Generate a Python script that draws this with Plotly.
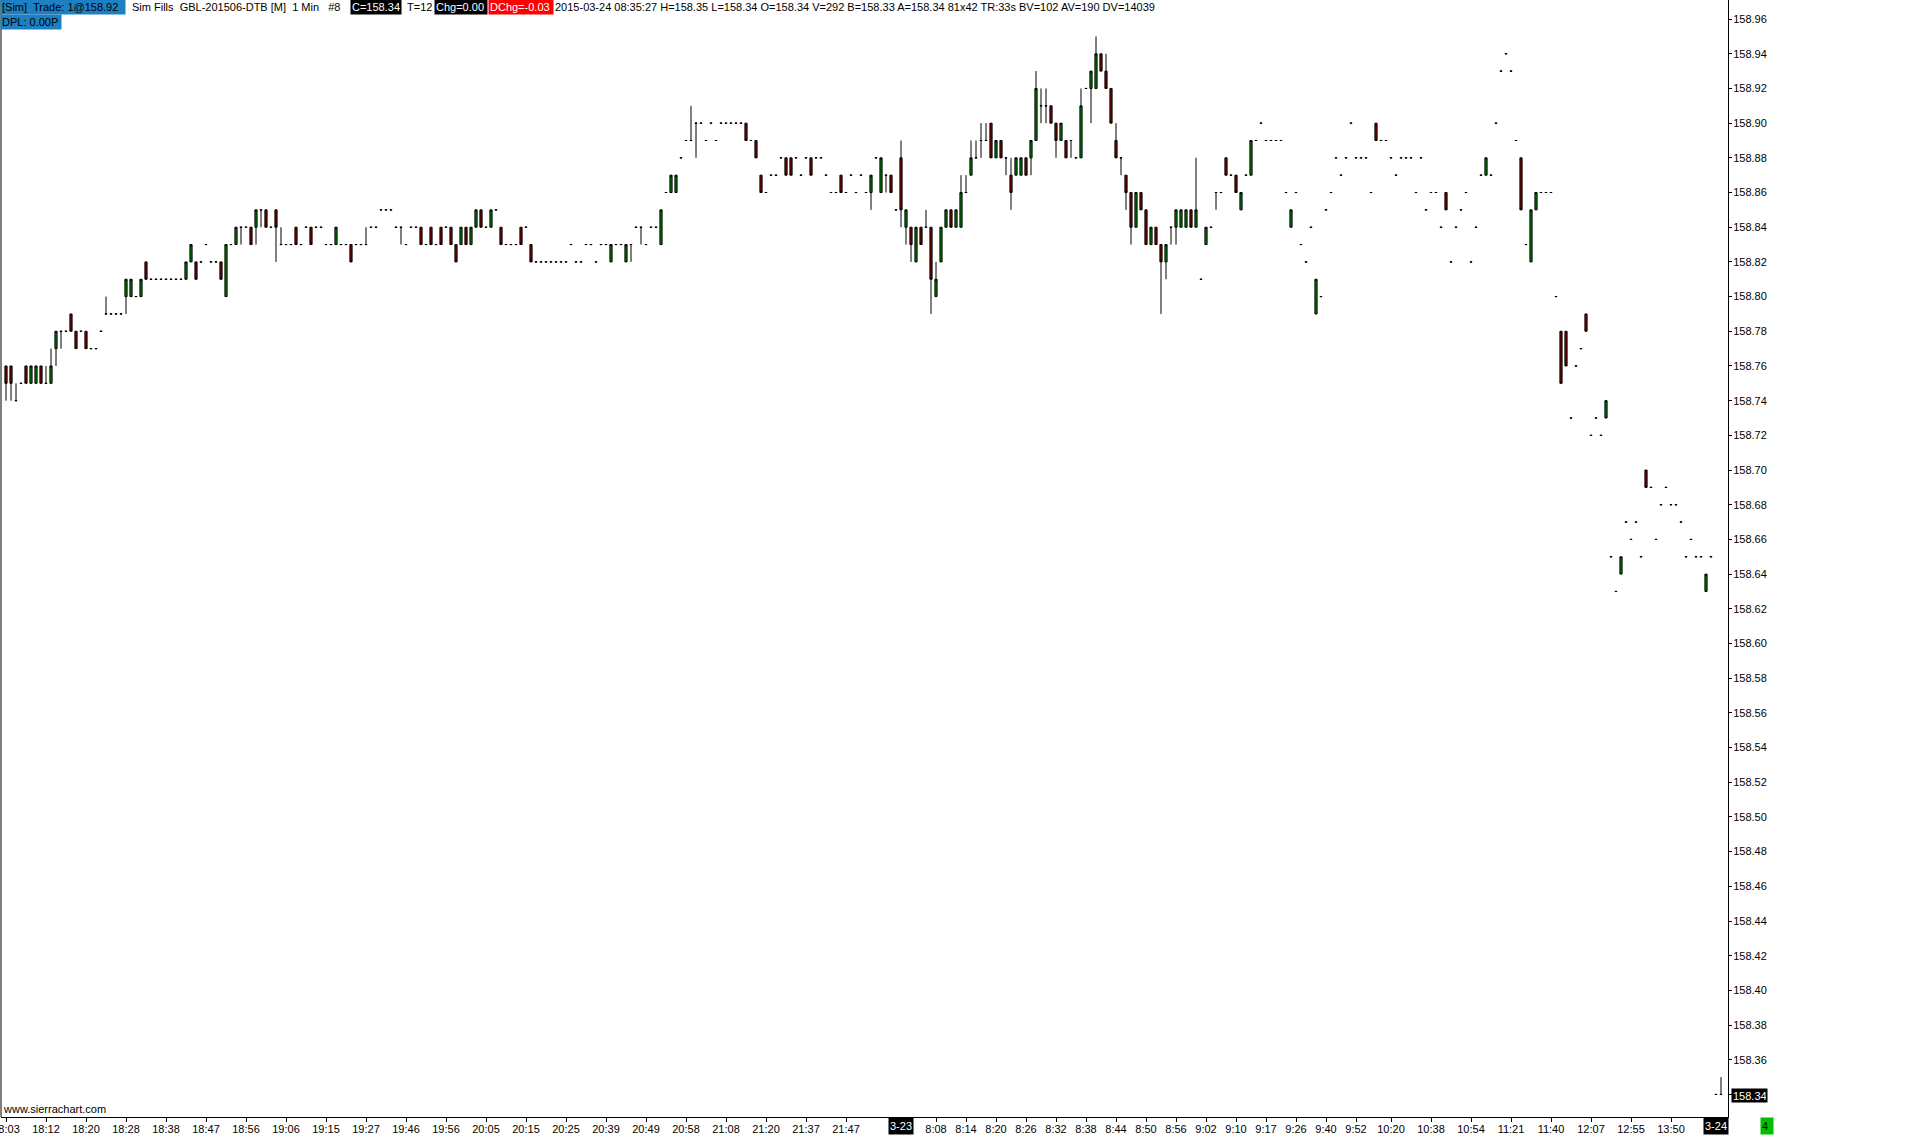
import plotly.graph_objects as go

# ---------------- data (prices in hundredths above 158.00) ----------------
PRICE_BASE = 158.00

open_c = [
    76,76,74,75,76,75,75,76,75,75, 77,78,78,79,78,78,78,77,77,78,
    79,79,79,79,80,80,80,80,82,81, 81,81,81,81,81,81,81,82,82,82,
    83,82,82,82,80,83,83,84,84,84, 84,85,85,84,85,83,83,83,84,83,
    84,84,84,84,83,83,83,83,83,83, 83,83,83,84,84,85,85,85,84,84,
    83,84,84,84,83,84,83,84,84,84, 83,83,84,83,84,85,84,84,85,84,
    83,83,83,84,84,83,82,82,82,82, 82,82,82,83,82,82,83,83,82,83,
    83,82,83,83,82,83,84,84,83,84, 84,83,86,86,86,88,89,89,90,90,
    89,90,89,90,90,90,90,90,90,89, 89,87,86,87,87,88,88,88,88,87,
    88,88,88,88,87,86,86,87,86,87, 86,87,86,86,88,86,87,87,85,88,
    84,84,82,84,84,84,80,82,84,85, 84,84,86,87,88,89,89,90,88,89,
    88,87,87,87,88,88,89,91,91,91, 90,89,89,89,88,88,92,92,92,94,
    93,92,89,88,87,86,84,86,85,83, 84,83,82,84,84,84,84,85,84,81,
    83,84,86,86,88,87,87,85,87,87, 89,90,89,89,89,89,86,84,86,83,
    82,84,79,80,85,86,88,87,88,90, 88,88,88,86,90,89,89,88,87,88,
    88,88,86,88,85,86,86,84,86,82, 84,85,86,82,84,87,87,87,90,93,
    94,93,89,88,83,82,85,86,86,86, 80,78,78,73,76,77,79,72,73,72,
    73,65,63,64,67,66,67,65,70,69, 66,68,69,68,68,67,65,66,65,65,
    63,65,34,34,
]
high_c = [
    76,76,75,75,76,76,76,76,76,77, 78,78,78,79,78,78,78,77,77,78,
    80,79,79,79,81,81,80,81,82,81, 81,81,81,81,81,81,82,83,82,82,
    83,82,82,82,83,83,84,84,84,84, 85,85,85,84,85,84,83,83,84,83,
    84,84,84,84,83,83,84,83,83,83, 83,83,84,84,84,85,85,85,84,84,
    83,84,84,84,83,84,83,84,84,84, 83,84,84,84,85,85,84,85,85,84,
    83,83,83,84,84,83,82,82,82,82, 82,82,82,83,82,82,83,83,82,83,
    83,83,83,83,83,83,84,84,83,84, 84,85,86,87,87,88,89,91,90,90,
    89,90,89,90,90,90,90,90,90,89, 89,87,86,87,87,88,88,88,88,87,
    88,88,88,88,87,86,86,87,86,87, 86,87,86,87,88,88,87,87,85,89,
    85,84,84,84,85,84,82,84,85,85, 85,87,87,89,89,90,90,90,89,89,
    88,88,88,88,88,89,93,92,92,91, 90,90,89,89,88,92,92,93,95,94,
    94,92,90,88,87,86,86,86,85,84, 84,83,83,84,85,85,85,85,88,81,
    84,84,86,86,88,87,87,86,87,89, 89,90,89,89,89,89,86,85,86,83,
    82,84,81,80,85,86,88,87,88,90, 88,88,88,86,90,89,89,88,87,88,
    88,88,86,88,85,86,86,84,86,82, 84,85,86,82,84,87,88,87,90,93,
    94,93,89,88,83,85,86,86,86,86, 80,78,78,73,76,77,79,72,73,72,
    74,65,63,65,67,66,67,65,70,69, 66,68,69,68,68,67,65,66,65,65,
    64,65,34,35,
]
low_c = [
    74,74,74,75,75,75,75,75,75,75, 76,77,78,78,77,78,77,77,77,78,
    79,79,79,79,79,80,80,80,81,81, 81,81,81,81,81,81,81,82,81,82,
    83,82,82,81,80,83,83,83,84,83, 83,84,84,84,82,83,83,83,83,83,
    84,83,84,84,83,83,83,83,83,82, 83,83,83,84,84,85,85,85,84,83,
    83,84,84,83,83,83,83,83,84,83, 82,83,83,83,84,84,84,84,85,83,
    83,83,83,83,84,82,82,82,82,82, 82,82,82,83,82,82,83,83,82,83,
    83,82,83,83,82,82,84,83,83,84, 84,83,86,86,86,88,89,89,88,90,
    89,90,89,90,90,90,90,90,89,89, 88,86,86,87,87,88,87,87,88,87,
    88,87,88,88,87,86,86,86,86,87, 86,87,86,85,88,86,86,86,85,84,
    83,82,82,83,84,79,80,82,84,84, 84,84,86,87,88,88,89,88,88,88,
    87,85,87,87,87,87,89,90,90,90, 88,89,88,88,88,88,92,90,92,93,
    92,90,88,87,85,83,84,85,83,83, 83,79,81,83,83,84,84,84,84,81,
    83,84,85,86,87,87,86,85,87,87, 89,90,89,89,89,89,86,84,86,83,
    82,84,79,80,85,86,88,87,88,90, 88,88,88,86,89,89,89,88,87,88,
    88,88,86,88,85,86,86,84,85,82, 84,85,86,82,84,87,87,87,90,93,
    94,93,89,85,83,82,85,86,86,86, 80,75,76,73,76,77,78,72,73,72,
    73,65,63,64,67,66,67,65,69,69, 66,68,69,68,68,67,65,66,65,65,
    63,65,34,34,
]
close_c = [
    75,75,74,75,75,76,76,75,75,76, 78,78,78,78,77,78,77,77,77,78,
    79,79,79,79,81,81,80,81,81,81, 81,81,81,81,81,81,82,83,81,82,
    83,82,82,81,83,83,84,84,84,83, 85,85,84,84,84,83,83,83,83,83,
    84,83,84,84,83,83,84,83,83,82, 83,83,83,84,84,85,85,85,84,84,
    83,84,84,83,83,83,83,83,84,83, 82,84,83,84,85,84,84,85,85,83,
    83,83,83,83,84,82,82,82,82,82, 82,82,82,83,82,82,83,83,82,83,
    83,83,83,83,83,83,84,84,83,84, 84,85,86,87,87,88,89,89,90,90,
    89,90,89,90,90,90,90,90,89,89, 88,86,86,87,87,88,87,87,88,87,
    88,87,88,88,87,86,86,86,86,87, 86,87,86,87,88,88,87,86,85,85,
    85,83,84,83,84,81,81,84,85,84, 85,86,86,88,88,89,89,88,89,88,
    88,86,88,88,87,89,92,91,91,90, 89,90,88,89,88,91,92,93,94,93,
    92,90,88,88,86,84,86,85,83,84, 83,82,83,84,85,85,85,84,85,81,
    84,84,86,86,87,87,86,86,87,89, 89,90,89,89,89,89,86,85,86,83,
    82,84,81,80,85,86,88,87,88,90, 88,88,88,86,89,89,89,88,87,88,
    88,88,86,88,85,86,86,84,85,82, 84,85,86,82,84,87,88,87,90,93,
    94,93,89,85,83,85,86,86,86,86, 80,75,76,73,76,77,78,72,73,72,
    74,65,63,65,67,66,67,65,69,69, 66,68,69,68,68,67,65,66,65,65,
    64,65,34,34,
]

tick_bars = [0, 8, 16, 24, 32, 40, 48, 56, 64, 72, 80, 88, 96, 104, 112, 120,
             128, 136, 144, 152, 160, 168, 179, 186, 192, 198, 204, 210, 216,
             222, 228, 234, 240, 246, 252, 258, 264, 270, 277, 285, 293, 301,
             309, 317, 325, 333, 342]
tick_labels = ["18:03", "18:12", "18:20", "18:28", "18:38", "18:47", "18:56",
               "19:06", "19:15", "19:27", "19:46", "19:56", "20:05", "20:15",
               "20:25", "20:39", "20:49", "20:58", "21:08", "21:20", "21:37",
               "21:47", "3-23", "8:08", "8:14", "8:20", "8:26", "8:32", "8:38",
               "8:44", "8:50", "8:56", "9:02", "9:10", "9:17", "9:26", "9:40",
               "9:52", "10:20", "10:38", "10:54", "11:21", "11:40", "12:07",
               "12:55", "13:50", "3-24"]
date_labels = ["3-23", "3-24"]

price_ticks = [158.34 + 0.02 * k for k in range(32)]
last_price = 158.34

header_text = ("2015-03-24 08:35:27 H=158.35 L=158.34 O=158.34 V=292 B=158.33 "
               "A=158.34 81x42 TR:33s BV=102 AV=190 DV=14039")

# ---------------- derived ----------------
bars = list(range(len(open_c)))
to_price = lambda seq: [round(PRICE_BASE + v / 100.0, 2) for v in seq]
o, h, l, c = to_price(open_c), to_price(high_c), to_price(low_c), to_price(close_c)

W, H = 1916, 1137
ML, MR, MT, MB = 1, 188, 0, 20
PW, PH = W - ML - MR, H - MT - MB


def px(x):
    return (x - ML) / PW


def py(y):
    return 1 - (y - MT) / PH


FONT = "Liberation Sans, Arial, sans-serif"

fig = go.Figure(go.Candlestick(
    x=bars, open=o, high=h, low=l, close=c,
    increasing=dict(line=dict(color="black", width=1), fillcolor="#008000"),
    decreasing=dict(line=dict(color="black", width=1), fillcolor="#800000"),
    whiskerwidth=0, hoverinfo="skip", showlegend=False,
))

ytext = ["" if abs(v - last_price) < 1e-9 else f"{v:.2f}" for v in price_ticks]
xtext = ["" if t in date_labels else t for t in tick_labels]

fig.update_layout(
    width=W, height=H,
    margin=dict(l=ML, r=MR, t=MT, b=MB, pad=0, autoexpand=False),
    paper_bgcolor="white", plot_bgcolor="white",
    boxgap=0.38,
    font=dict(family=FONT, size=11, color="black"),
    xaxis=dict(range=[-1, 344.4], tickmode="array", tickvals=tick_bars,
               ticktext=xtext, ticks="outside", ticklen=4, tickcolor="black",
               showline=True, linecolor="black", linewidth=1, showgrid=False,
               zeroline=False, rangeslider=dict(visible=False),
               automargin=False,
               ticklabeloverflow="allow", ticklabelstandoff=-2,
               tickfont=dict(family=FONT, size=11, color="black")),
    yaxis=dict(side="right", range=[158.327, 158.971], tickmode="array",
               tickvals=price_ticks, ticktext=ytext, ticks="outside",
               ticklen=3, tickcolor="black", showline=True, linecolor="black",
               linewidth=1, showgrid=False, zeroline=False, automargin=False,
               ticklabelstandoff=-1,
               tickfont=dict(family=FONT, size=11, color="black")),
)

fig.add_shape(type="line", xref="paper", yref="paper", x0=0, x1=0, y0=0, y1=1,
              line=dict(color="black", width=1))

ann = []


def box(text, x, y, bg=None, fg="black", w=None, hgt=None, xanchor="left",
        yanchor="middle", xref="paper"):
    d = dict(text=text, x=x, y=y, xref=xref, yref="paper", showarrow=False,
             xanchor=xanchor, yanchor=yanchor, align="left",
             font=dict(family=FONT, size=11, color=fg), borderpad=1)
    if bg:
        d["bgcolor"] = bg
    if w:
        d["width"] = w
    if hgt:
        d["height"] = hgt
    ann.append(d)


BLUE = "#1d80c3"
# header row 1
box("[Sim]\u00a0 Trade: 1@158.92", px(0), py(7), bg=BLUE, w=122, hgt=12)
box("Sim Fills\u00a0 GBL-201506-DTB [M]\u00a0 1 Min\u00a0\u00a0 #8", px(130), py(7))
box("C=158.34", px(350), py(7), bg="black", fg="white", w=48, hgt=12)
box("T=12", px(405), py(7))
box("Chg=0.00", px(434), py(7), bg="black", fg="white", w=50, hgt=12)
box("DChg=-0.03", px(488), py(7), bg="#ff0000", fg="white", w=62, hgt=12)
box(header_text, px(553), py(7))
# header row 2
box("DPL: 0.00P", px(0), py(22), bg=BLUE, w=58, hgt=12)
# watermark
box("www.sierrachart.com", px(1), py(1109))
# date labels on time axis
for lbl, b in zip(tick_labels, tick_bars):
    if lbl in date_labels:
        box(lbl, b, py(1126), bg="black", fg="white", w=22, hgt=14,
            xanchor="center", xref="x")
# last price box
box(f"{last_price:.2f}", px(1731), py(1095), bg="black", fg="white", w=33, hgt=11)
# green counter box
box("4", px(1760), py(1126), bg="#00c000", fg="black", w=10, hgt=14)

fig.update_layout(annotations=ann)

fig.write_html("out.html", config={"displayModeBar": False},
               post_script="document.body.style.margin='0px';")
